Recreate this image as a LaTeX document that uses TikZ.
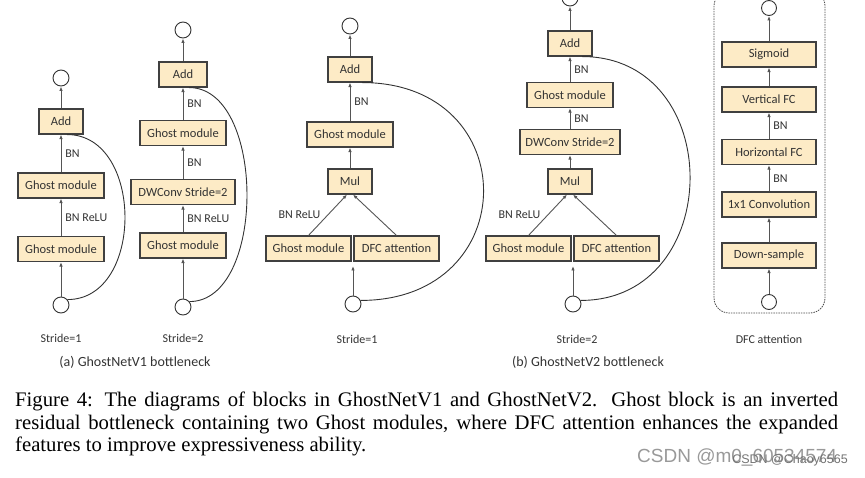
\documentclass[tikz,border=0pt]{standalone}
\usepackage{fontspec}
\setmainfont{Liberation Serif}
\setsansfont{Carlito}
\newfontfamily\wmfont{Liberation Sans}
\usetikzlibrary{arrows.meta,positioning}
\definecolor{boxfill}{HTML}{FDEBC6}
\definecolor{linegray}{HTML}{555555}

\begin{document}
\begin{tikzpicture}[x=1pt,y=-1pt,
    blk/.style={draw=black!75,line width=1.1pt,fill=boxfill,minimum height=25pt,inner sep=0pt,font=\sffamily\fontsize{12.5}{13}\selectfont,text=black!80},
    io/.style={circle,draw=black!80,line width=0.9pt,minimum size=16pt,inner sep=0pt},
    arr/.style={-{Latex[length=4.5pt,width=3.5pt]},draw=linegray,line width=0.9pt},
    skip/.style={draw=black!80,line width=0.9pt},
    lbl/.style={font=\sffamily\fontsize{12}{13}\selectfont,text=black!80,inner sep=1pt},
    sub/.style={font=\sffamily\fontsize{14}{15}\selectfont,text=black!80}]
\useasboundingbox (0,0) rectangle (865,478);

% GhostNetV1, stride 1
\node[io] (o1t) at (61,78) {};
\node[blk,minimum width=44pt] (a1) at (61,121.5) {Add};
\node[blk,minimum width=86pt] (g1a) at (61,185.5) {Ghost module};
\node[blk,minimum width=86pt] (g1b) at (61,249) {Ghost module};
\node[io] (o1b) at (61,305) {};
\draw[arr] (o1b) -- (g1b);
\draw[arr] (g1b) -- node[lbl,right=3pt]{BN ReLU} (g1a);
\draw[arr] (g1a) -- node[lbl,right=3pt]{BN} (a1);
\draw[arr] (a1) -- (o1t);
\draw[skip] (o1b.40) .. controls +(77,0) and +(77,0) .. ([xshift=6pt]a1.south);

% GhostNetV1, stride 2
\node[io] (o2t) at (183,30) {};
\node[blk,minimum width=48pt] (a2) at (183,74.5) {Add};
\node[blk,minimum width=86pt] (g2a) at (183,133) {Ghost module};
\node[blk,minimum width=104pt] (d2) at (183,192) {DWConv Stride=2};
\node[blk,minimum width=86pt] (g2b) at (183,245.5) {Ghost module};
\node[io] (o2b) at (183,307) {};
\draw[arr] (o2b) -- (g2b);
\draw[arr] (g2b) -- node[lbl,right=3pt]{BN ReLU} (d2);
\draw[arr] (d2) -- node[lbl,right=3pt]{BN} (g2a);
\draw[arr] (g2a) -- node[lbl,right=3pt]{BN} (a2);
\draw[arr] (a2) -- (o2t);
\draw[skip] (o2b.40) .. controls +(77,0) and +(77,0) .. ([xshift=6pt]a2.south);

% GhostNetV2, stride 1
\node[io] (o3t) at (350,26) {};
\node[blk,minimum width=44pt] (a3) at (350,69.5) {Add};
\node[blk,minimum width=86pt] (g3) at (350,134.5) {Ghost module};
\node[blk,minimum width=44pt] (m3) at (350,181.5) {Mul};
\node[blk,minimum width=85pt] (g3b) at (308.5,248.5) {Ghost module};
\node[blk,minimum width=85pt] (f3) at (396.5,248.5) {DFC attention};
\node[io] (o3b) at (353,304) {};
\coordinate (j3) at (353,266);
\draw[arr] (o3b) -- (j3);
\draw[arr] (g3b.north) -- node[lbl,left=6pt]{BN ReLU} ([xshift=-3pt]m3.south);
\draw[arr] (f3.north) -- ([xshift=3pt]m3.south);
\draw[arr] (m3) -- (g3);
\draw[arr] (g3) -- node[lbl,right=3pt]{BN} (a3);
\draw[arr] (a3) -- (o3t);
\draw[skip] (o3b.25) .. controls +(163,0) and +(163,0) .. ([xshift=12pt]a3.south);

% GhostNetV2, stride 2
\node[io] (o4t) at (570,-2) {};
\node[blk,minimum width=44pt] (a4) at (570,43.5) {Add};
\node[blk,minimum width=86pt] (g4) at (570,95) {Ghost module};
\node[blk,minimum width=100pt] (d4) at (570,142) {DWConv Stride=2};
\node[blk,minimum width=44pt] (m4) at (570,181.5) {Mul};
\node[blk,minimum width=85pt] (g4b) at (528.5,248.5) {Ghost module};
\node[blk,minimum width=85pt] (f4) at (616.5,248.5) {DFC attention};
\node[io] (o4b) at (573,304) {};
\coordinate (j4) at (573,266);
\draw[arr] (o4b) -- (j4);
\draw[arr] (g4b.north) -- node[lbl,left=6pt]{BN ReLU} ([xshift=-3pt]m4.south);
\draw[arr] (f4.north) -- ([xshift=3pt]m4.south);
\draw[arr] (m4) -- (d4);
\draw[arr] (d4) -- node[lbl,right=3pt]{BN} (g4);
\draw[arr] (g4) -- node[lbl,right=3pt]{BN} (a4);
\draw[arr] (a4) -- (o4t);
\draw[skip] (o4b.25) .. controls +(145,0) and +(145,0) .. ([xshift=12pt]a4.south);

% DFC attention
\draw[draw=black!70,line width=0.8pt,dash pattern=on 1.5pt off 1pt,rounded corners=15pt] (714,-9) rectangle (825,313);
\node[io,minimum size=15pt] (o5t) at (769,8) {};
\node[io,minimum size=15pt] (o5b) at (769,302) {};
\foreach \t/\y [count=\n] in {Down-sample/255.5,1x1 Convolution/204.5,Horizontal FC/152,Vertical FC/99.5,Sigmoid/54.5}
    \node[blk,minimum width=94pt] (D\n) at (769,\y) {\t};
\draw[arr] (o5b) -- (D1);
\draw[arr] (D1) -- (D2);
\draw[arr] (D2) -- node[lbl,right=3pt]{BN} (D3);
\draw[arr] (D3) -- node[lbl,right=3pt]{BN} (D4);
\draw[arr] (D4) -- (D5);
\draw[arr] (D5) -- (o5t);

% sub captions
\node[lbl] (s1) at (61,338) {Stride=1};
\node[lbl] (s2) at (183,338) {Stride=2};
\node[lbl] (s3) at (357,339) {Stride=1};
\node[lbl] (s4) at (577,339) {Stride=2};
\node[lbl] (s5) at (769,339) {DFC attention};
\node[sub] (ca) at (135,362) {(a) GhostNetV1 bottleneck};
\node[sub] (cb) at (588,362) {(b) GhostNetV2 bottleneck};

% figure caption
\node[anchor=north west,text width=823pt,align=justify,inner sep=0pt,font=\fontsize{20.7}{22.5}\selectfont] (cap) at (15,392)
    {Figure 4: The diagrams of blocks in GhostNetV1 and GhostNetV2. Ghost block is an inverted\linebreak
     residual bottleneck containing two Ghost modules, where DFC attention enhances the expanded\linebreak
     features to improve expressiveness ability.};
\node[anchor=base west,inner sep=0pt,text=black!40,font=\wmfont\fontsize{19}{19}\selectfont] (wm) at (637,462) {CSDN @m0\_60534574};
\node[anchor=base east,inner sep=0pt,text=black!55,font=\wmfont\fontsize{12.5}{12.5}\selectfont] (wm2) at (848,463) {CSDN @Chaoy6565};
\end{tikzpicture}
\end{document}
